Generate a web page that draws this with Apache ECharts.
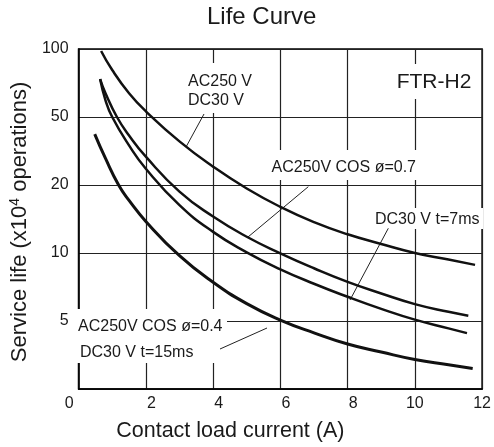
<!DOCTYPE html>
<html>
<head>
<meta charset="utf-8">
<script src="https://cdn.jsdelivr.net/npm/echarts@6/dist/echarts.min.js"></script>
<style>
html,body{margin:0;padding:0;background:#fff;}
#c{width:494px;height:447px;}
</style>
</head>
<body>
<div id="c"></div>
<script>
// ---- data ----
const titleText = 'Life Curve';
const xName = 'Contact load current (A)';
const yTickLabels = ['0', '5', '10', '20', '50', '100'];
const yTickValues = [0, 5, 10, 20, 50, 100];

// AC250 V / DC30 V (resistive)
const resistiveX    = [0.67, 1, 1.5, 2, 3, 4, 5, 6, 7, 8, 9, 10, 11, 11.79];
const resistiveLife = [98.0, 80.7, 63.7, 53.0, 36.0, 25.6, 19.3, 16.0, 13.7, 12.1, 10.96, 10.0, 9.35, 8.86];
// AC250V COS ø=0.7
const cos07X    = [0.64, 0.8, 1.14, 1.5, 2, 3, 4, 5, 6, 7, 8, 9, 10, 11, 11.59];
const cos07Life = [73.6, 63.7, 50, 39.0, 29.3, 18.7, 14.5, 11.8, 9.97, 8.56, 7.45, 6.62, 5.94, 5.49, 5.28];
// DC30 V t=7ms
const dc7X    = [0.64, 0.8, 1.0, 1.5, 2, 3, 4, 5, 6, 7, 8, 9, 10, 11, 11.55];
const dc7Life = [73.6, 59.3, 50, 34.1, 24.9, 16.3, 12.4, 10.07, 8.47, 7.31, 6.40, 5.66, 5.07, 4.46, 4.11];
// AC250V COS ø=0.4 / DC30 V t=15ms
const cos04X    = [0.48, 0.8, 1.19, 1.5, 2, 3, 4, 5, 6, 7, 8, 9, 10, 11, 11.72];
const cos04Life = [39.7, 28.6, 20, 17.1, 13.8, 9.73, 7.42, 5.97, 5.05, 4.13, 3.31, 2.72, 2.17, 1.78, 1.50];

// ---- axis mapping: evenly spaced ticks 0,5,10,20,50,100 ----
function lifeToPos(v) {
  if (v <= yTickValues[1]) return v / yTickValues[1];
  for (let i = 1; i < yTickValues.length - 1; i++) {
    const a = yTickValues[i], b = yTickValues[i + 1];
    if (v <= b) return i + Math.log(v / a) / Math.log(b / a);
  }
  return yTickValues.length - 1;
}
function pairs(xs, ys) { return xs.map((x, i) => [x, lifeToPos(ys[i])]); }

const FONT = 'Liberation Sans, Arial, sans-serif';
const TXT = '#1a1a1a';

function curve(name, xs, ys, w) {
  return {
    name: name, type: 'line', data: pairs(xs, ys), smooth: 0.5,
    showSymbol: false, symbol: 'none', z: 5,
    lineStyle: { color: '#111', width: w }
  };
}

function label(text, x, y, size, align) {
  return { type: 'text', z: 2, x: x, y: y,
    style: { text: text, font: size + 'px ' + FONT, fill: TXT, align: align || 'left', verticalAlign: 'middle' } };
}
function box(x, y, w, h) {
  return { type: 'rect', z: 1, shape: { x: x, y: y, width: w, height: h }, style: { fill: '#fff' } };
}
function pointer(x1, y1, x2, y2) {
  return { type: 'line', z: 2, shape: { x1: x1, y1: y1, x2: x2, y2: y2 }, style: { stroke: '#222', lineWidth: 1 } };
}

const chart = echarts.init(document.getElementById('c'), null, { renderer: 'canvas' });
chart.setOption({
  animation: false,
  backgroundColor: '#fff',
  title: {
    text: titleText, left: 207, top: 5, padding: 0,
    textStyle: { fontFamily: FONT, fontSize: 24, fontWeight: 'normal', color: TXT }
  },
  grid: { left: 72, top: 49, right: 9, bottom: 53, show: true, borderColor: '#000', borderWidth: 1.5, backgroundColor: 'transparent' },
  xAxis: {
    type: 'value', min: 0, max: 12, interval: 2,
    name: xName, nameLocation: 'middle', nameGap: 31,
    nameTextStyle: { fontFamily: FONT, fontSize: 21.5, color: TXT, padding: [0, 100, 0, 0] },
    axisLine: { show: true, lineStyle: { color: '#000', width: 1.5 } },
    axisTick: { show: false },
    splitLine: { show: true, lineStyle: { color: '#222', width: 1.2 } },
    axisLabel: {
      margin: 7, fontFamily: FONT, fontSize: 16, color: TXT,
      formatter: function (v) { return v === 0 ? '{o|0}' : (v < 10 ? '{n|' + v + '}' : '{w|' + v + '}'); },
      rich: {
        n: { fontFamily: FONT, fontSize: 16, color: TXT, padding: [0, 0, 0, 11] },
        w: { fontFamily: FONT, fontSize: 16, color: TXT },
        o: { fontFamily: FONT, fontSize: 16, color: TXT, padding: [0, 19, 8, 0] }
      }
    }
  },
  yAxis: {
    type: 'value', min: 0, max: yTickLabels.length - 1, interval: 1,
    name: 'Service life (x10{sup|4} operations)', nameLocation: 'middle', nameGap: 25,
    nameTextStyle: {
      fontFamily: FONT, fontSize: 22, color: TXT, padding: [0, 6, 0, 0],
      rich: { sup: { fontFamily: FONT, fontSize: 14, color: TXT, verticalAlign: 'top', padding: [0, 0, 10, 0] } }
    },
    axisLine: { show: true, lineStyle: { color: '#000', width: 1.5 } },
    axisTick: { show: false },
    splitLine: { show: true, lineStyle: { color: '#222', width: 1.2 } },
    axisLabel: {
      margin: 10, fontFamily: FONT, fontSize: 16, color: TXT,
      formatter: function (v) { return v === 0 ? '' : yTickLabels[Math.round(v)]; }
    }
  },
  graphic: [
    box(185, 63, 70, 50),
    label('AC250 V', 188, 81.7, 16),
    label('DC30 V', 188, 101, 16),
    pointer(204, 114, 186, 147),
    box(393, 64, 84, 35),
    label('FTR-H2', 434, 82.5, 21, 'center'),
    box(268, 150, 153, 30),
    label('AC250V COS ø=0.7', 271.5, 167.3, 16),
    pointer(308.3, 186.7, 248, 237),
    box(373, 208, 110, 21),
    label('DC30 V t=7ms', 375, 219.3, 16),
    pointer(388.3, 228.3, 350, 300),
    box(75, 309, 152, 54),
    label('AC250V COS ø=0.4', 78, 326.7, 16),
    label('DC30 V t=15ms', 80, 352.7, 16),
    pointer(220, 349, 267, 328)
  ],
  series: [
    curve('AC250 V / DC30 V', resistiveX, resistiveLife, 2.5),
    curve('AC250V COS ø=0.7', cos07X, cos07Life, 2.5),
    curve('DC30 V t=7ms', dc7X, dc7Life, 2.5),
    curve('AC250V COS ø=0.4 / DC30 V t=15ms', cos04X, cos04Life, 3)
  ]
});
</script>
</body>
</html>
